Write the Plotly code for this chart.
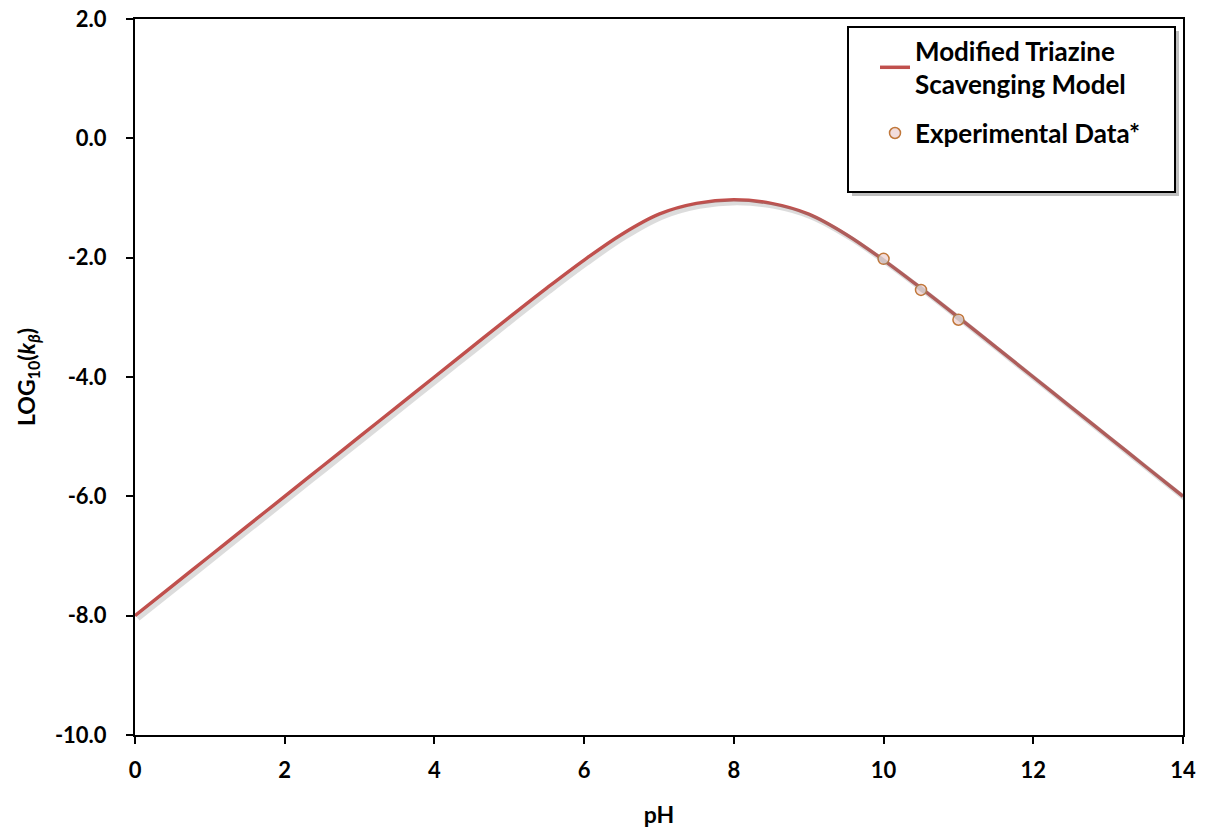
import plotly.graph_objects as go

# Model curve values (pH vs log10 k_beta)
model_ph = [0, 0.5, 1, 1.5, 2, 2.5, 3, 3.5, 4, 4.5, 5, 5.5, 6, 6.5, 7, 7.5, 8,
            8.5, 9, 9.5, 10, 10.5, 11, 11.5, 12, 12.5, 13, 13.5, 14]
model_logk = [-8.00, -7.50, -7.00, -6.50, -6.00, -5.50, -5.00, -4.50, -4.00, -3.50,
              -3.00, -2.51, -2.04, -1.61, -1.27, -1.09, -1.03, -1.09, -1.27, -1.61,
              -2.04, -2.51, -3.00, -3.50, -4.00, -4.50, -5.00, -5.50, -6.00]

# Experimental data points
exp_ph = [10.0, 10.5, 11.0]
exp_logk = [-2.02, -2.54, -3.04]

x_ticks = [0, 2, 4, 6, 8, 10, 12, 14]
y_ticks = [-10, -8, -6, -4, -2, 0, 2]
y_ticklabels = ["-10.0", "-8.0", "-6.0", "-4.0", "-2.0", "0.0", "2.0"]

FONT = "Lato"
OFF = 8  # page body margin offset
W, H = 1211 - OFF, 828 - OFF
L, R, T, B = 135 - OFF, 28, 19 - OFF, 93
pw, ph = W - L - R, H - T - B
# shadow offset (pixels) converted to data units
sx = 3 * 14 / pw
sy = 3 * 12 / ph


def px_x(px):
    return (px - 135) / pw


def px_y(py):
    return (735 - py) / ph


fig = go.Figure()

# soft shadow under the model line (drawn on offset overlay axes)
fig.add_trace(go.Scatter(
    x=model_ph, y=model_logk, mode="lines", line=dict(color="rgba(130,130,130,0.28)", width=5, shape="spline"),
    xaxis="x2", yaxis="y2", showlegend=False, hoverinfo="skip"))

fig.add_trace(go.Scatter(
    x=model_ph, y=model_logk, mode="lines", legendgroup="model",
    name="Modified Triazine<br>Scavenging Model",
    line=dict(color="#C0504D", width=3.5, shape="spline")))

fig.add_trace(go.Scatter(
    x=exp_ph, y=exp_logk, mode="markers", name="Experimental Data*", legendgroup="exp",
    marker=dict(size=11, color="#F2DCDB", line=dict(color="#C0773A", width=1.5))))

axis_common = dict(showgrid=False, zeroline=False, showline=True, linecolor="black", linewidth=2,
                   mirror=True, ticks="outside", tickcolor="black", tickwidth=2, ticklen=7,
                   automargin=False, ticklabeloverflow="allow",
                   tickfont=dict(family=FONT, size=22, color="black", weight="bold"))

fig.update_layout(
    width=W, height=H,
    margin=dict(l=L, r=R, t=T, b=B),
    plot_bgcolor="white", paper_bgcolor="white",
    font=dict(family=FONT, color="black"),
    xaxis=dict(range=[0, 14], tickvals=x_ticks, ticklabelstandoff=8,
               title=dict(text="pH", font=dict(family=FONT, size=23, color="black", weight="bold"), standoff=24),
               **axis_common),
    yaxis=dict(range=[-10, 2], tickvals=y_ticks, ticktext=y_ticklabels, ticklabelstandoff=15,
               title=dict(text="LOG<sub>10</sub>(<i>k</i><sub><i>β</i></sub>)",
                          font=dict(family=FONT, size=23, color="black", weight="bold"), standoff=13),
               **axis_common),
    xaxis2=dict(range=[0 - sx, 14 - sx], overlaying="x", visible=False),
    yaxis2=dict(range=[-10 + sy, 2 + sy], overlaying="y", visible=False),
    showlegend=True,
    legend=dict(x=px_x(875), y=px_y(19 + 8), xanchor="left", yanchor="top", bgcolor="rgba(0,0,0,0)",
                borderwidth=0, tracegroupgap=12,
                font=dict(family=FONT, size=26, color="black", weight="bold")),
    shapes=[
        dict(type="rect", xref="paper", yref="paper",
             x0=px_x(852), x1=px_x(1179), y0=px_y(196), y1=px_y(31),
             line=dict(width=0), fillcolor="rgba(0,0,0,0.25)", layer="above"),
        dict(type="rect", xref="paper", yref="paper",
             x0=px_x(848), x1=px_x(1175), y0=px_y(192), y1=px_y(27),
             line=dict(color="black", width=2), fillcolor="white", layer="above"),
    ],
)

fig.write_html("out.html")
